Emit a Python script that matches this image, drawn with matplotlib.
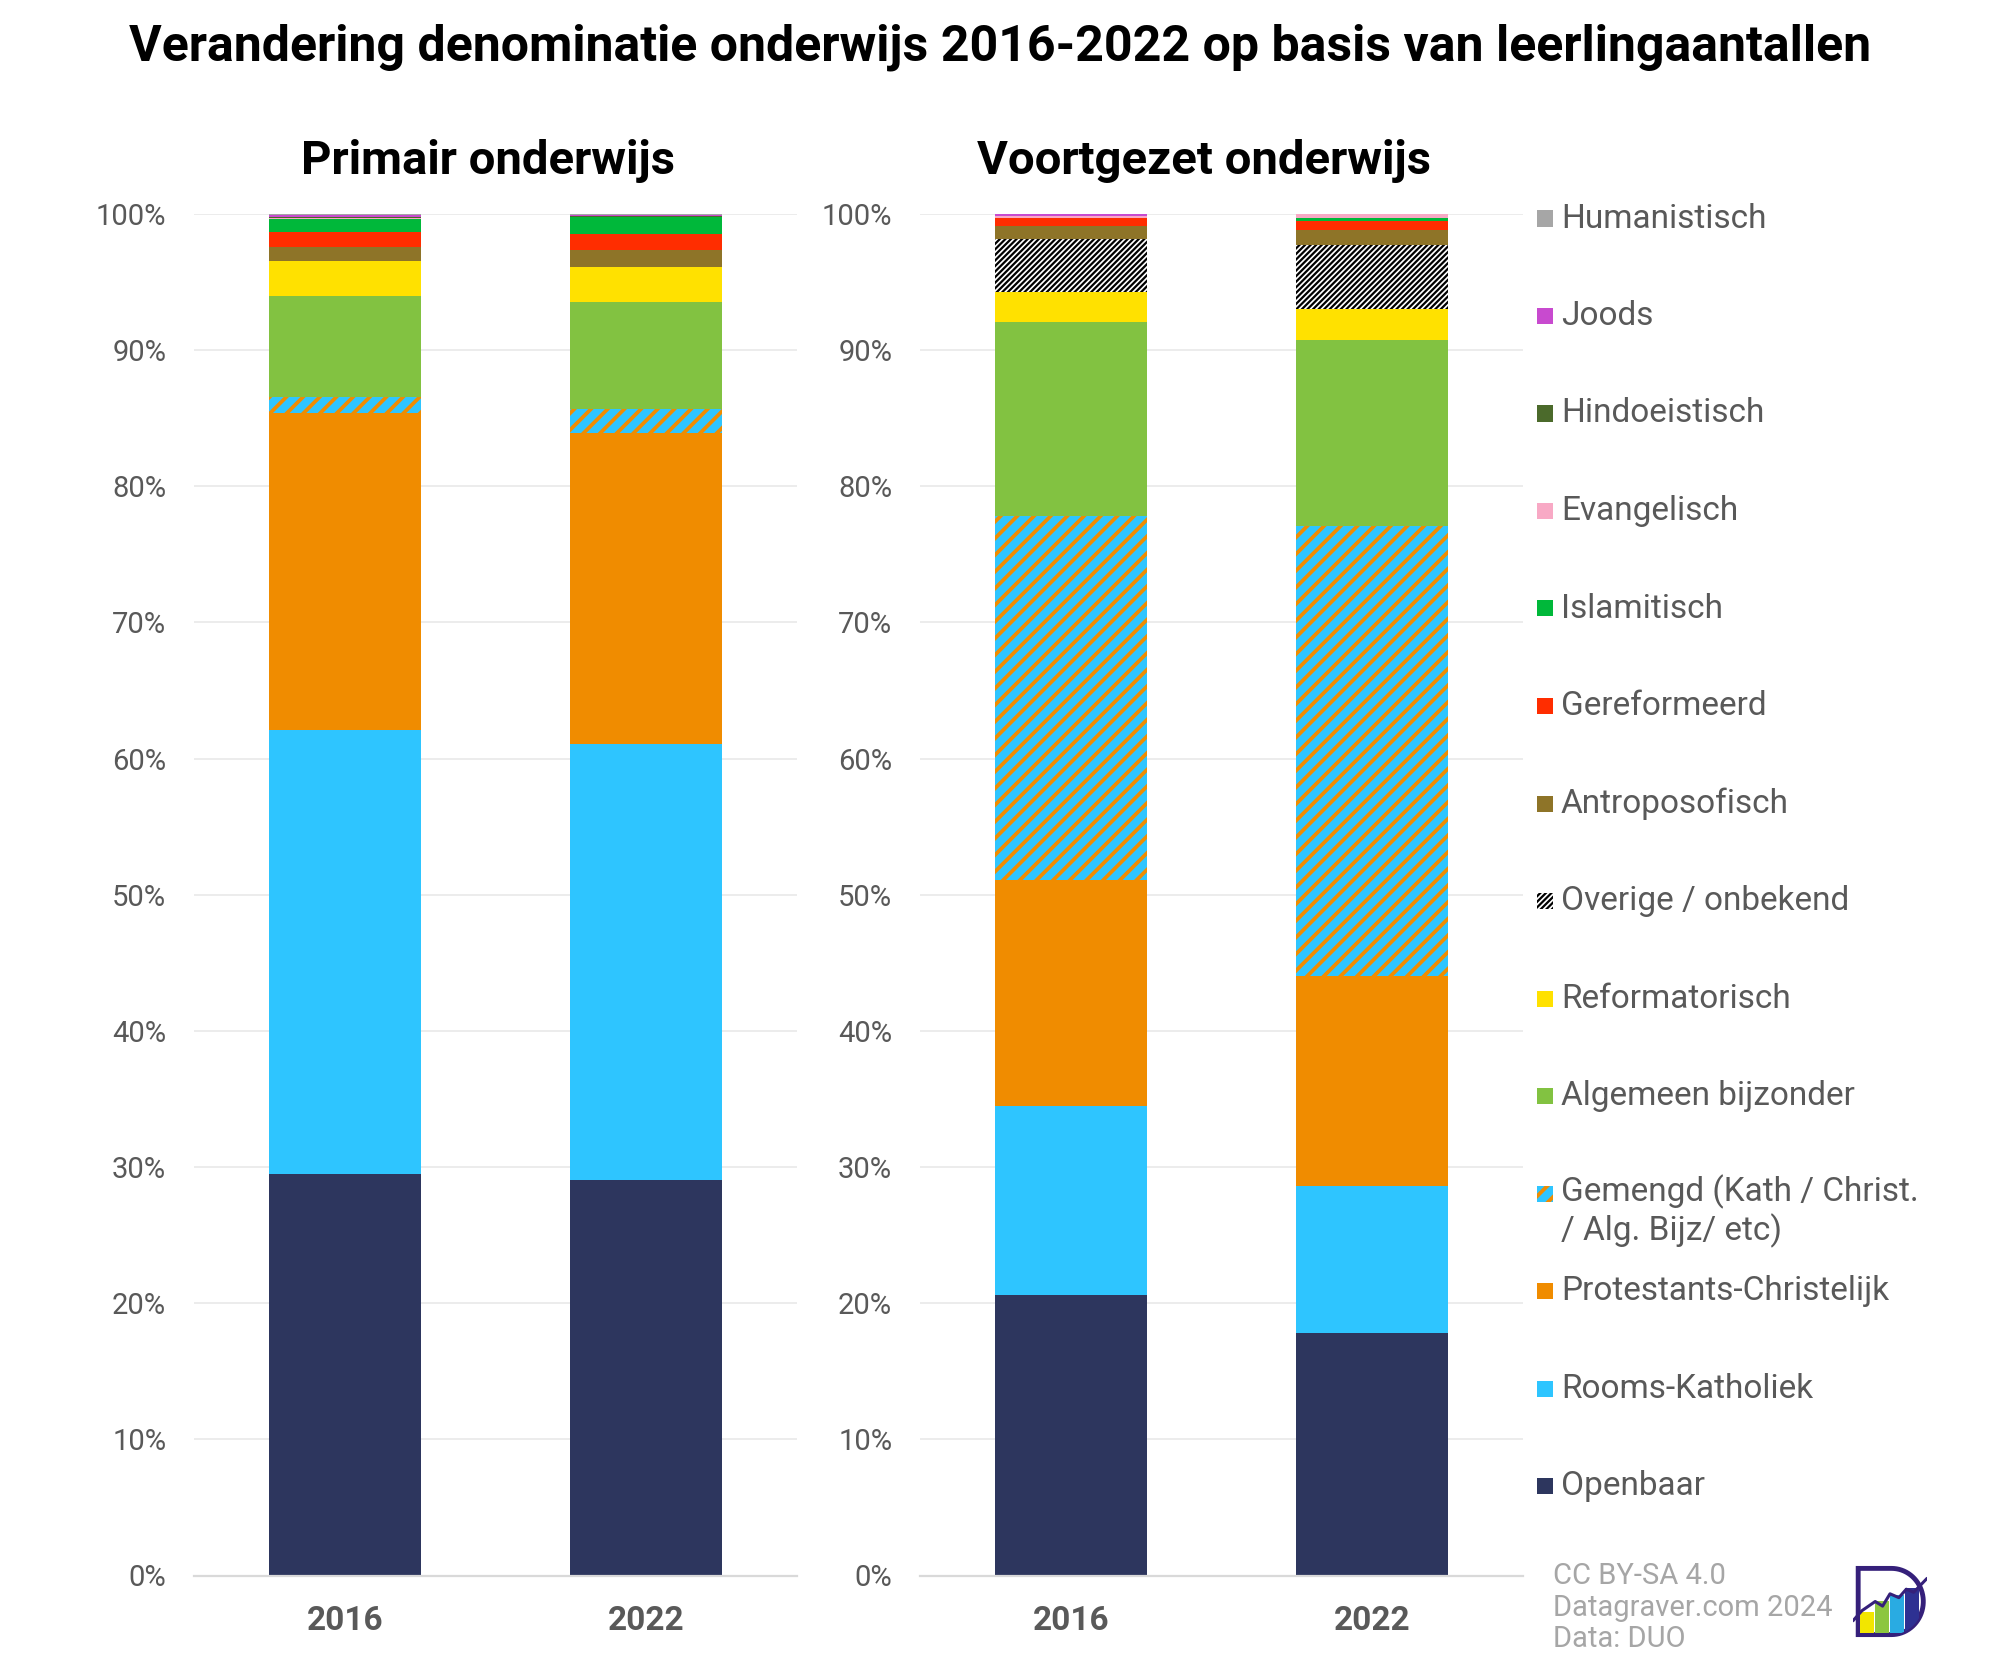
import matplotlib
matplotlib.use('Agg')
import matplotlib.pyplot as plt
from matplotlib.patches import Rectangle, Polygon
import numpy as np

W, H = 2000, 1670
plt.rcParams['font.family'] = ['Roboto', 'DejaVu Sans']
plt.rcParams['hatch.linewidth'] = 2.7

# ---------------- data (percent of pupils) ----------------
years = ['2016', '2022']
panel_titles = ['Primair onderwijs', 'Voortgezet onderwijs']
series = ['Openbaar', 'Rooms-Katholiek', 'Protestants-Christelijk', 'Gemengd',
          'Algemeen bijzonder', 'Reformatorisch', 'Overige / onbekend',
          'Antroposofisch', 'Gereformeerd', 'Islamitisch', 'Evangelisch',
          'Hindoeistisch', 'Joods', 'Humanistisch']
legend_labels = {'Gemengd': 'Gemengd (Kath / Christ.\n/ Alg. Bijz/ etc)'}

primair_2016 = [29.5, 32.6, 23.3, 1.15, 7.4, 2.6, 0.0, 1.0, 1.15, 0.9, 0.1, 0.1, 0.1, 0.1]
primair_2022 = [29.05, 32.05, 22.8, 1.8, 7.8, 2.6, 0.0, 1.25, 1.15, 1.25, 0.06, 0.06, 0.07, 0.07]
voortgezet_2016 = [20.6, 13.9, 16.6, 26.7, 14.3, 2.2, 3.9, 0.9, 0.6, 0.03, 0.1, 0.02, 0.12, 0.03]
voortgezet_2022 = [17.8, 10.8, 15.45, 33.05, 13.65, 2.3, 4.7, 1.05, 0.65, 0.25, 0.28, 0.01, 0.01, 0.01]

y_ticks = list(range(0, 101, 10))
y_tick_labels = [f'{t}%' for t in y_ticks]

footer = 'CC BY-SA 4.0\nDatagraver.com 2024\nData: DUO'
title = 'Verandering denominatie onderwijs 2016-2022 op basis van leerlingaantallen'

# ---------------- styles ----------------
face = {'Openbaar': '#2D365E', 'Rooms-Katholiek': '#2EC5FF',
        'Protestants-Christelijk': '#F08C00', 'Gemengd': '#2EC5FF',
        'Algemeen bijzonder': '#82C241', 'Reformatorisch': '#FFE100',
        'Overige / onbekend': '#FFFFFF', 'Antroposofisch': '#8E7428',
        'Gereformeerd': '#FF2D00', 'Islamitisch': '#00B83A',
        'Evangelisch': '#F8A9C5', 'Hindoeistisch': '#4B6A2B',
        'Joods': '#C84ACF', 'Humanistisch': '#A6A6A6'}
hatch = {'Gemengd': '//', 'Overige / onbekend': '//////'}
hatch_col = {'Gemengd': '#F08C00', 'Overige / onbekend': '#000000'}
hatch_lw = {'Gemengd': 2.7, 'Overige / onbekend': 1.6}

TXT = '#595959'


def fx(px):
    return px / W


def fy(py):
    return 1 - py / H


def style_patch(p, s):
    if s in hatch_lw and hasattr(p, 'set_hatch_linewidth'):
        p.set_hatch_linewidth(hatch_lw[s])


fig = plt.figure(figsize=(W / 100, H / 100), dpi=100)
fig.patch.set_facecolor('white')

ax_top, ax_bot = 214.0, 1575.5
axes_left = [194, 920]
title_x = [488, 1204]
ax_w = 603
panel_data = [(primair_2016, primair_2022), (voortgezet_2016, voortgezet_2022)]

for k in range(2):
    ax = fig.add_axes([fx(axes_left[k]), fy(ax_bot), ax_w / W, (ax_bot - ax_top) / H])
    d16, d22 = panel_data[k]
    bottoms = np.zeros(2)
    for i, s in enumerate(series):
        vals = np.array([d16[i], d22[i]])
        with plt.rc_context({'hatch.linewidth': hatch_lw.get(s, 2.7)}):
            bars = ax.bar([0, 1], vals, width=0.503, bottom=bottoms,
                          color=face[s], edgecolor=hatch_col.get(s, face[s]),
                          hatch=hatch.get(s), linewidth=0, zorder=3)
        for b in bars:
            style_patch(b, s)
        bottoms += vals
    ax.set_xlim(-0.5, 1.5)
    ax.set_ylim(0, 100)
    ax.set_yticks(y_ticks, y_tick_labels)
    ax.set_xticks([0, 1], years)
    for sp in ['top', 'right', 'left']:
        ax.spines[sp].set_visible(False)
    ax.spines['bottom'].set_color('#D9D9D9')
    ax.spines['bottom'].set_linewidth(1.6)
    ax.spines['bottom'].set_zorder(4)
    ax.grid(axis='y', color='#EBEBEB', linewidth=1.3, zorder=0)
    ax.set_axisbelow(True)
    ax.tick_params(axis='y', length=0, pad=20, labelsize=21, labelcolor=TXT)
    ax.tick_params(axis='x', length=0, pad=21, labelsize=24, labelcolor=TXT)
    for lab in ax.get_xticklabels():
        lab.set_fontweight('bold')
    fig.text(fx(title_x[k]), fy(161), panel_titles[k], ha='center', va='center',
             fontsize=34, fontweight='bold', color='black')

fig.text(0.5, fy(47), title, ha='center', va='center', fontsize=36,
         fontweight='bold', color='black')

# ---------------- legend (manual, top to bottom) ----------------
leg_order = series[::-1]
for k, s in enumerate(leg_order):
    yc = 218.5 + 97.5 * k
    r = Rectangle((fx(1537), fy(yc + 8)), 16 / W, 16 / H, transform=fig.transFigure,
                  facecolor=face[s], edgecolor=hatch_col.get(s, face[s]),
                  hatch=hatch.get(s), linewidth=0)
    style_patch(r, s)
    fig.add_artist(r)
    lab = legend_labels.get(s, s)
    if '\n' in lab:
        fig.text(fx(1561), fy(yc - 19), lab, ha='left', va='top', fontsize=24,
                 color=TXT, linespacing=1.15)
    else:
        fig.text(fx(1561), fy(yc), lab, ha='left', va='center', fontsize=24, color=TXT)

fig.text(fx(1553), fy(1562), footer, ha='left', va='top', fontsize=21,
         color='#A6A6A6', linespacing=1.17)

# ---------------- logo ----------------
lax = fig.add_axes([fx(1853), fy(1640), 74 / W, 77 / H])
lax.set_xlim(0, 1)
lax.set_ylim(0, 1)
lax.axis('off')
th = np.linspace(np.pi / 2, -np.pi / 2, 40)
cx, cy, rr = 0.52, 0.5, 0.43
dx = np.concatenate([[0.07, cx], cx + rr * np.cos(th), [0.07]])
dy = np.concatenate([[0.93, 0.93], cy + rr * np.sin(th), [0.07]])
dpoly = Polygon(np.column_stack([dx, dy]), closed=True, facecolor='white',
                edgecolor='#35207A', linewidth=3.5, zorder=1)
lax.add_patch(dpoly)
bar_cols = ['#F2E600', '#8CC63F', '#29ABE2', '#2E3192']
bar_h = [0.28, 0.42, 0.5, 0.58]
for j, (c, h) in enumerate(zip(bar_cols, bar_h)):
    bp = Rectangle((0.1 + j * 0.2, 0.09), 0.19, h, facecolor=c, linewidth=0, zorder=2)
    bp.set_clip_path(dpoly)
    lax.add_patch(bp)
lax.plot([0.0, 0.12, 0.3, 0.4, 0.5, 0.62, 0.72, 0.82, 1.0],
         [0.25, 0.38, 0.5, 0.44, 0.6, 0.55, 0.66, 0.62, 0.8],
         color='#35207A', linewidth=2.2, zorder=3, solid_capstyle='round')

fig.savefig('out.png', dpi=100, facecolor='white')
